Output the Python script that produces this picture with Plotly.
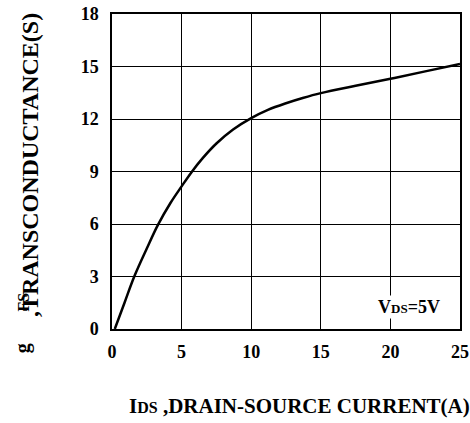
import plotly.graph_objects as go

# Data
ids_current = [0.2, 0.9, 1.6, 2.5, 3.3, 4.2, 5.0, 5.7, 6.5, 7.5, 8.7, 10.0, 11.2, 12.5, 13.7, 15.0, 17.5, 20.0, 22.5, 25.0]
gfs_values  = [0.0, 1.5, 3.0, 4.6, 5.95, 7.2, 8.15, 8.95, 9.75, 10.6, 11.4, 12.05, 12.52, 12.9, 13.2, 13.48, 13.9, 14.3, 14.72, 15.15]

x_ticks = [0, 5, 10, 15, 20, 25]
y_ticks = [0, 3, 6, 9, 12, 15, 18]

FONT = "Liberation Serif, Times New Roman, serif"

fig = go.Figure()
fig.add_trace(go.Scatter(
    x=ids_current, y=gfs_values, mode="lines",
    line=dict(color="black", width=2.5, shape="spline", smoothing=1.0),
    showlegend=False, hoverinfo="skip",
))

axis_common = dict(
    showgrid=True, gridcolor="black", gridwidth=1,
    showline=True, linecolor="black", linewidth=1.5, mirror=True,
    zeroline=False, ticks="", automargin=False, ticklabeloverflow="allow",
    tickfont=dict(family=FONT, size=18, color="black"),
)

fig.update_xaxes(range=[0, 25], tickvals=x_ticks, ticktext=[f"<b>{v}</b>" for v in x_ticks],
                 ticklabelstandoff=6, **axis_common)
fig.update_yaxes(range=[0, 18], tickvals=y_ticks, ticktext=[f"<b>{v}</b>" for v in y_ticks],
                 ticklabelstandoff=8, **axis_common)

ann_font = dict(family=FONT, color="black")

annotations = [
    # y-axis title pieces (as drawn in the reference)
    dict(text="<b>,TRANSCONDUCTANCE(S)</b>", x=-0.236, y=0.52, xref="paper", yref="paper",
         textangle=-90, showarrow=False, xanchor="center", yanchor="middle",
         font=dict(size=24, **ann_font)),
    dict(text="<b>FS</b>", x=-0.255, y=0.085, xref="paper", yref="paper",
         textangle=-90, showarrow=False, xanchor="center", yanchor="middle",
         font=dict(size=16, **ann_font)),
    dict(text="<b>g</b>", x=-0.255, y=-0.06, xref="paper", yref="paper",
         textangle=-90, showarrow=False, xanchor="center", yanchor="middle",
         font=dict(size=20, **ann_font)),
    # x-axis title
    dict(text="<b>I<span style='font-size:16px'>DS</span> ,DRAIN-SOURCE CURRENT(A)</b>",
         x=0.54, y=-0.245, xref="paper", yref="paper",
         showarrow=False, xanchor="center", yanchor="middle",
         font=dict(size=21, **ann_font)),
    # condition label
    dict(text="<b>V<span style='font-size:13px'>DS</span>=5V</b>", x=21.3, y=1.26, xref="x", yref="y",
         showarrow=False, xanchor="center", yanchor="middle", bgcolor="white",
         font=dict(size=18, **ann_font)),
]

fig.update_layout(
    width=470, height=423,
    margin=dict(l=112, r=10, t=14, b=94, autoexpand=False),
    plot_bgcolor="white", paper_bgcolor="white",
    annotations=annotations,
)

# remove the default page margin so the figure fills the window exactly
fig.write_html("out.html",
               config={"displayModeBar": False},
               post_script="document.body.style.margin='0';document.body.style.overflow='hidden';")
